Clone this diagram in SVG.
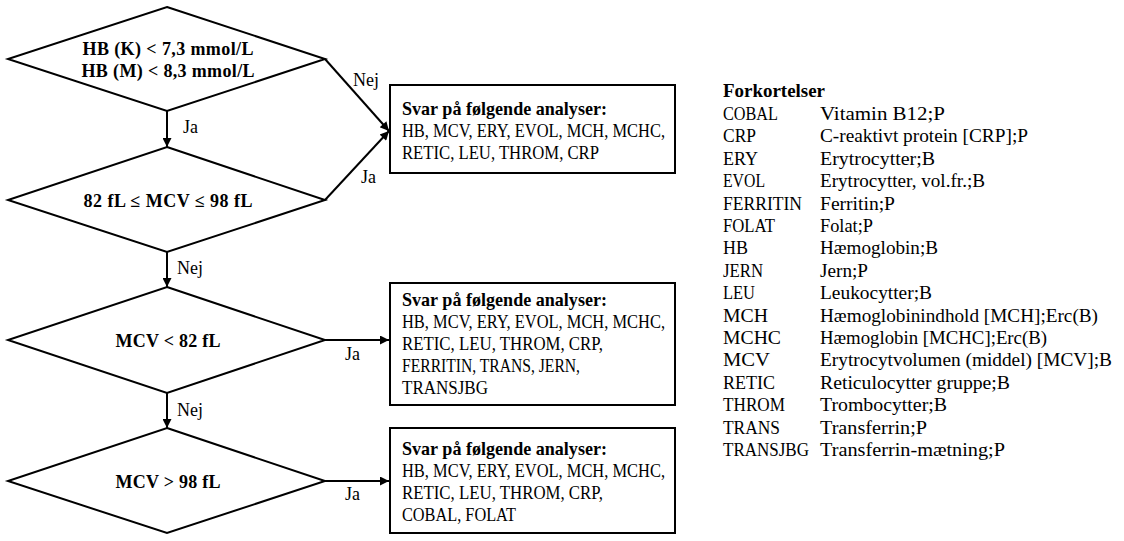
<svg xmlns="http://www.w3.org/2000/svg" width="1124" height="541" viewBox="0 0 1124 541">
<style>
.shape{fill:#fff;stroke:#000;stroke-width:2}
.conn{fill:none;stroke:#000;stroke-width:2}
text{font-family:"Liberation Serif","DejaVu Serif",serif;font-size:19px;fill:#000}
.b{font-weight:bold}
.c{text-anchor:middle}
.d{font-size:18px}
.l{font-size:18px}
</style>
<defs>
<marker id="ah" viewBox="0 0 10 10" refX="10" refY="5" markerWidth="11" markerHeight="9" markerUnits="userSpaceOnUse" orient="auto">
<path d="M0,0 L10,5 L0,10 z" fill="#000"/>
</marker>
</defs>
<rect width="1124" height="541" fill="#fff"/>
<g id="d1"><polygon class="shape" points="167,7 325,59 167,111 8,59"/>
<text class="b c d" x="168" y="55" textLength="171">HB (K) &lt; 7,3 mmol/L</text>
<text class="b c d" x="168" y="77" textLength="173">HB (M) &lt; 8,3 mmol/L</text></g>
<g id="d2"><polygon class="shape" points="167,147 325,200 167,252 8,200"/>
<text class="b c d" x="168" y="207" textLength="169">82 fL ≤ MCV ≤ 98 fL</text></g>
<g id="d3"><polygon class="shape" points="167,287 325,340 167,393 8,340"/>
<text class="b c d" x="168" y="347" textLength="105">MCV &lt; 82 fL</text></g>
<g id="d4"><polygon class="shape" points="167,428 325,481 167,533 8,481"/>
<text class="b c d" x="168" y="488" textLength="105">MCV &gt; 98 fL</text></g>
<g id="box1"><rect class="shape" x="390" y="85" width="285" height="88"/>
<text class="b" x="402" y="115" textLength="205" lengthAdjust="spacingAndGlyphs">Svar på følgende analyser:</text>
<text x="402" y="137" textLength="263" lengthAdjust="spacingAndGlyphs">HB, MCV, ERY, EVOL, MCH, MCHC,</text>
<text x="402" y="159" textLength="197" lengthAdjust="spacingAndGlyphs">RETIC, LEU, THROM, CRP</text></g>
<g id="box2"><rect class="shape" x="390" y="283" width="285" height="122"/>
<text class="b" x="402" y="306" textLength="205" lengthAdjust="spacingAndGlyphs">Svar på følgende analyser:</text>
<text x="402" y="328" textLength="263" lengthAdjust="spacingAndGlyphs">HB, MCV, ERY, EVOL, MCH, MCHC,</text>
<text x="402" y="350" textLength="201" lengthAdjust="spacingAndGlyphs">RETIC, LEU, THROM, CRP,</text>
<text x="402" y="372" textLength="178" lengthAdjust="spacingAndGlyphs">FERRITIN, TRANS, JERN,</text>
<text x="402" y="394" textLength="86" lengthAdjust="spacingAndGlyphs">TRANSJBG</text></g>
<g id="box3"><rect class="shape" x="390" y="428" width="285" height="105"/>
<text class="b" x="402" y="455" textLength="205" lengthAdjust="spacingAndGlyphs">Svar på følgende analyser:</text>
<text x="402" y="477" textLength="263" lengthAdjust="spacingAndGlyphs">HB, MCV, ERY, EVOL, MCH, MCHC,</text>
<text x="402" y="499" textLength="201" lengthAdjust="spacingAndGlyphs">RETIC, LEU, THROM, CRP,</text>
<text x="402" y="521" textLength="114" lengthAdjust="spacingAndGlyphs">COBAL, FOLAT</text></g>
<g id="connectors">
<line class="conn" x1="325" y1="59" x2="389" y2="131" marker-end="url(#ah)"/>
<line class="conn" x1="325" y1="200" x2="389" y2="131" marker-end="url(#ah)"/>
<line class="conn" x1="167" y1="111" x2="167" y2="147" marker-end="url(#ah)"/>
<line class="conn" x1="167" y1="252" x2="167" y2="287" marker-end="url(#ah)"/>
<line class="conn" x1="167" y1="393" x2="167" y2="428" marker-end="url(#ah)"/>
<line class="conn" x1="325" y1="340" x2="389" y2="340" marker-end="url(#ah)"/>
<line class="conn" x1="325" y1="481" x2="389" y2="481" marker-end="url(#ah)"/>
<text class="l" x="353" y="86">Nej</text>
<text class="l" x="361" y="183">Ja</text>
<text class="l" x="183" y="133">Ja</text>
<text class="l" x="177" y="274">Nej</text>
<text class="l" x="177" y="416">Nej</text>
<text class="l" x="345" y="360">Ja</text>
<text class="l" x="345" y="500">Ja</text>
</g>
<g id="legend">
<text class="b" x="723" y="97" textLength="102" lengthAdjust="spacingAndGlyphs">Forkortelser</text>
<text x="723" y="120" textLength="55" lengthAdjust="spacingAndGlyphs">COBAL</text><text x="820" y="120" textLength="125" lengthAdjust="spacingAndGlyphs">Vitamin B12;P</text>
<text x="723" y="142.4" textLength="33" lengthAdjust="spacingAndGlyphs">CRP</text><text x="820" y="142.4" textLength="208" lengthAdjust="spacingAndGlyphs">C-reaktivt protein [CRP];P</text>
<text x="723" y="164.8" textLength="35" lengthAdjust="spacingAndGlyphs">ERY</text><text x="820" y="164.8" textLength="115" lengthAdjust="spacingAndGlyphs">Erytrocytter;B</text>
<text x="723" y="187.2" textLength="42" lengthAdjust="spacingAndGlyphs">EVOL</text><text x="820" y="187.2" textLength="165" lengthAdjust="spacingAndGlyphs">Erytrocytter, vol.fr.;B</text>
<text x="723" y="209.6" textLength="79" lengthAdjust="spacingAndGlyphs">FERRITIN</text><text x="820" y="209.6" textLength="75" lengthAdjust="spacingAndGlyphs">Ferritin;P</text>
<text x="723" y="232" textLength="52" lengthAdjust="spacingAndGlyphs">FOLAT</text><text x="820" y="232" textLength="53" lengthAdjust="spacingAndGlyphs">Folat;P</text>
<text x="723" y="254.4" textLength="25" lengthAdjust="spacingAndGlyphs">HB</text><text x="820" y="254.4" textLength="118" lengthAdjust="spacingAndGlyphs">Hæmoglobin;B</text>
<text x="723" y="276.8" textLength="40" lengthAdjust="spacingAndGlyphs">JERN</text><text x="820" y="276.8" textLength="48" lengthAdjust="spacingAndGlyphs">Jern;P</text>
<text x="723" y="299.2" textLength="32" lengthAdjust="spacingAndGlyphs">LEU</text><text x="820" y="299.2" textLength="112" lengthAdjust="spacingAndGlyphs">Leukocytter;B</text>
<text x="723" y="321.6" textLength="45" lengthAdjust="spacingAndGlyphs">MCH</text><text x="820" y="321.6" textLength="278" lengthAdjust="spacingAndGlyphs">Hæmoglobinindhold [MCH];Erc(B)</text>
<text x="723" y="344" textLength="58" lengthAdjust="spacingAndGlyphs">MCHC</text><text x="820" y="344" textLength="227" lengthAdjust="spacingAndGlyphs">Hæmoglobin [MCHC];Erc(B)</text>
<text x="723" y="366.4" textLength="47" lengthAdjust="spacingAndGlyphs">MCV</text><text x="820" y="366.4" textLength="292" lengthAdjust="spacingAndGlyphs">Erytrocytvolumen (middel) [MCV];B</text>
<text x="723" y="388.8" textLength="52" lengthAdjust="spacingAndGlyphs">RETIC</text><text x="820" y="388.8" textLength="190" lengthAdjust="spacingAndGlyphs">Reticulocytter gruppe;B</text>
<text x="723" y="411.2" textLength="62" lengthAdjust="spacingAndGlyphs">THROM</text><text x="820" y="411.2" textLength="127" lengthAdjust="spacingAndGlyphs">Trombocytter;B</text>
<text x="723" y="433.6" textLength="57" lengthAdjust="spacingAndGlyphs">TRANS</text><text x="820" y="433.6" textLength="107" lengthAdjust="spacingAndGlyphs">Transferrin;P</text>
<text x="723" y="456" textLength="86" lengthAdjust="spacingAndGlyphs">TRANSJBG</text><text x="820" y="456" textLength="185" lengthAdjust="spacingAndGlyphs">Transferrin-mætning;P</text>
</g>
</svg>
